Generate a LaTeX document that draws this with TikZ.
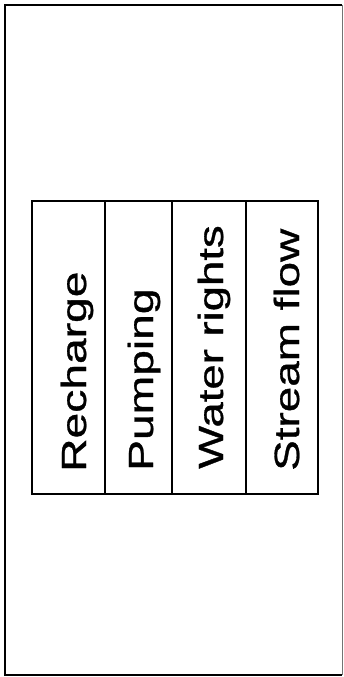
\documentclass[tikz,border=0pt]{standalone}
\usepackage{fontspec}
\setmainfont{Liberation Sans}
\newfontfamily\lblfont[FakeBold=0.8]{Liberation Sans}
\begin{document}
\begin{tikzpicture}[x=1pt,y=-1pt,
  lbl/.style={rotate=90,anchor=base west,inner sep=0pt,font=\lblfont\fontsize{35}{40}\selectfont},
  frame/.style={line width=2pt},
  thin/.style={line width=1.1pt},
  thick/.style={line width=2.2pt}]
\useasboundingbox (0,0) rectangle (343,677);
% outer frame
\draw[frame] (342,5) -- (5,5) -- (5,675) -- (342,675);
\draw[line width=0.7pt,black!55] (342,5) -- (342,675);
% table
\draw[thick] (32,201) rectangle (318,494);
\draw[thin] (105,201) -- (105,494);
\draw[thick] (172,201) -- (172,494);
\draw[thin] (246,201) -- (246,494);
% labels
\node[lbl] (rech) at (86,472) {\scalebox{1.32}[1]{Recharge}};
\node[lbl] (pump) at (153,471) {\scalebox{1.32}[1]{Pumping}};
\node[lbl] (wate) at (223,469) {\scalebox{1.3}[1]{Water rights}};
\node[lbl] (strm) at (299,471) {\scalebox{1.31}[1]{Stream flow}};
\end{tikzpicture}
\end{document}
